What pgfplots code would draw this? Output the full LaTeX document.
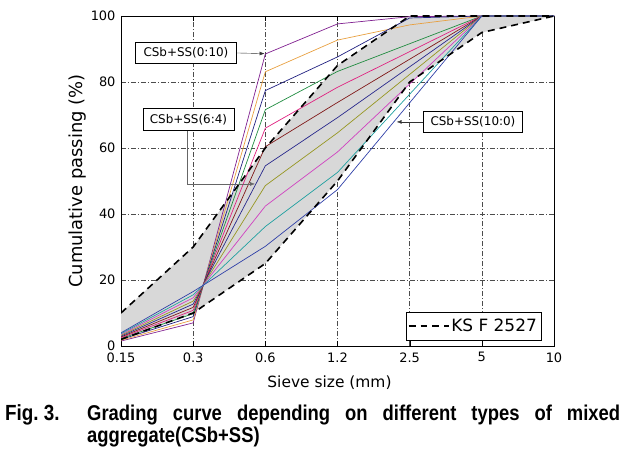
\documentclass[border=0pt]{standalone}
\usepackage{fontspec}
\setmainfont{DejaVu Sans}
\newfontfamily\capfont{Liberation Sans}[FakeStretch=0.86]
\usepackage{pgfplots}
\usepackage{pgfplotstable}
\pgfplotsset{compat=1.18}
\usetikzlibrary{arrows.meta}
\usepgfplotslibrary{fillbetween}

\definecolor{cA}{RGB}{128,32,144}
\definecolor{cB}{RGB}{232,160,64}
\definecolor{cC}{RGB}{32,32,128}
\definecolor{cD}{RGB}{32,140,64}
\definecolor{cE}{RGB}{224,32,128}
\definecolor{cF}{RGB}{128,24,24}
\definecolor{cG}{RGB}{40,40,140}
\definecolor{cH}{RGB}{150,150,32}
\definecolor{cI}{RGB}{208,64,192}
\definecolor{cJ}{RGB}{32,160,160}
\definecolor{cK}{RGB}{48,64,168}
\definecolor{bandgray}{RGB}{216,216,216}

% x: 0=0.15, 1=0.3, 2=0.6, 3=1.2, 4=2.5, 5=5, 6=10
\pgfplotstableread{
x lo up a b c d e f g h i j k
0 2 10 1.5 1.75 2.0 2.25 2.5 2.75 3.0 3.25 3.5 3.75 4.0
1 10 30 7.0 7.9 8.9 9.8 10.8 11.7 12.7 13.6 14.6 15.5 16.5
2 25 60 88.5 83.1 77.4 71.6 66.0 60.4 54.6 48.6 42.4 36.2 30.2
3 50 85 97.6 92.7 87.6 83.2 78.4 73.8 69.2 64.6 58.8 52.6 47.4
4 80 100 99.8 97.3 99.4 91.6 89.2 86.9 84.6 82.3 79.4 76.3 73.7
5 95 100 100 100 100 100 100 100 100 100 100 100 100
6 100 100 100 100 100 100 100 100 100 100 100 100 100
}\grading

\begin{document}
\begin{tikzpicture}
\begin{axis}[
  at={(0,0)}, anchor=south west,
  scale only axis, width=433bp, height=330bp,
  xmin=0, xmax=6, ymin=0, ymax=100,
  xtick={0,...,6},
  xticklabels={0.15,0.3,0.6,1.2,2.5,5,10},
  ytick={0,20,40,60,80,100},
  tick align=inside,
  major tick length=5bp,
  ytick style={draw=none},
  xtick style={black},
  grid=major,
  major grid style={black!70, thin, dash pattern=on 5pt off 2pt on 1pt off 2pt},
  axis line style={black, line width=0.8pt},
  tick label style={font=\fontsize{13}{13}\selectfont},
  xticklabel style={yshift=-3bp},
  yticklabel style={xshift=-2bp},
  /pgf/number format/assume math mode=true,
  xlabel={Sieve size (mm)},
  ylabel={Cumulative passing (\%)},
  xlabel style={font=\fontsize{15.5}{16}\selectfont, xshift=-8bp, yshift=-7bp},
  ylabel style={font=\fontsize{18}{18}\selectfont, yshift=-2bp},
  legend style={at={(0.97,0.018)}, anchor=south east, draw=black, fill=white,
    font=\fontsize{17}{17}\selectfont, inner xsep=2pt, inner ysep=5pt, row sep=0pt},
  legend cell align=left,
  legend image code/.code={\draw[black, line width=1.6pt, dash pattern=on 7pt off 5pt] (0cm,0cm) -- (40bp,0cm);},
]
\addplot[name path=lo, draw=none, forget plot] table[x=x,y=lo]{\grading};
\addplot[name path=up, draw=none, forget plot] table[x=x,y=up]{\grading};
\addplot[fill=bandgray, draw=none, forget plot] fill between[of=lo and up];

\addplot[cA, line width=0.7pt, forget plot] table[x=x,y=a]{\grading};
\addplot[cB, line width=0.7pt, forget plot] table[x=x,y=b]{\grading};
\addplot[cC, line width=0.7pt, forget plot] table[x=x,y=c]{\grading};
\addplot[cD, line width=0.7pt, forget plot] table[x=x,y=d]{\grading};
\addplot[cE, line width=0.7pt, forget plot] table[x=x,y=e]{\grading};
\addplot[cF, line width=0.7pt, forget plot] table[x=x,y=f]{\grading};
\addplot[cG, line width=0.7pt, forget plot] table[x=x,y=g]{\grading};
\addplot[cH, line width=0.7pt, forget plot] table[x=x,y=h]{\grading};
\addplot[cI, line width=0.7pt, forget plot] table[x=x,y=i]{\grading};
\addplot[cJ, line width=0.7pt, forget plot] table[x=x,y=j]{\grading};
\addplot[cK, line width=0.7pt, forget plot] table[x=x,y=k]{\grading};

\addplot[black, line width=1.6pt, dash pattern=on 7pt off 5pt] table[x=x,y=up]{\grading};
\addlegendentry{KS F 2527}
\addplot[black, line width=1.6pt, dash pattern=on 7pt off 5pt, forget plot] table[x=x,y=lo]{\grading};

% annotations
\node[draw=black, fill=white, font=\fontsize{12}{12}\selectfont, inner xsep=8bp, inner ysep=3pt, minimum height=21bp] (b1) at (axis cs:0.90,88.8) {CSb+SS(0:10)};
\draw[-{Latex[length=5pt]}, black!80] (b1.east) -- (axis cs:1.99,88.6);
\node[draw=black, fill=white, font=\fontsize{12}{12}\selectfont, inner xsep=7bp, inner ysep=3pt, minimum height=22bp] (b2) at (axis cs:0.935,68.6) {CSb+SS(6:4)};
\draw[-{Latex[length=5pt]}, black!60] (axis cs:0.915,65.2) -- (axis cs:0.915,49.1) -- (axis cs:1.857,49.1);
\node[draw=black, fill=white, font=\fontsize{12}{12}\selectfont, inner xsep=7bp, inner ysep=3pt, minimum height=21bp] (b3) at (axis cs:4.877,67.9) {CSb+SS(10:0)};
\draw[-{Latex[length=5pt]}, black!80] (b3.west) -- (axis cs:3.82,67.9);
\end{axis}
\node[anchor=base west, font=\capfont\bfseries\fontsize{22}{22}\selectfont, inner sep=0pt] at (-116bp,-74bp) {Fig.\ 3.};
\node[anchor=base west, text width=533bp, align=justify, font=\capfont\bfseries\fontsize{21.5}{23}\selectfont, inner sep=0pt] at (-34bp,-74bp) {Grading curve depending on different types of mixed\linebreak aggregate(CSb+SS)};
\pgfresetboundingbox
\path[use as bounding box] (-121bp,-105bp) rectangle (510bp,346bp);
\end{tikzpicture}
\end{document}
